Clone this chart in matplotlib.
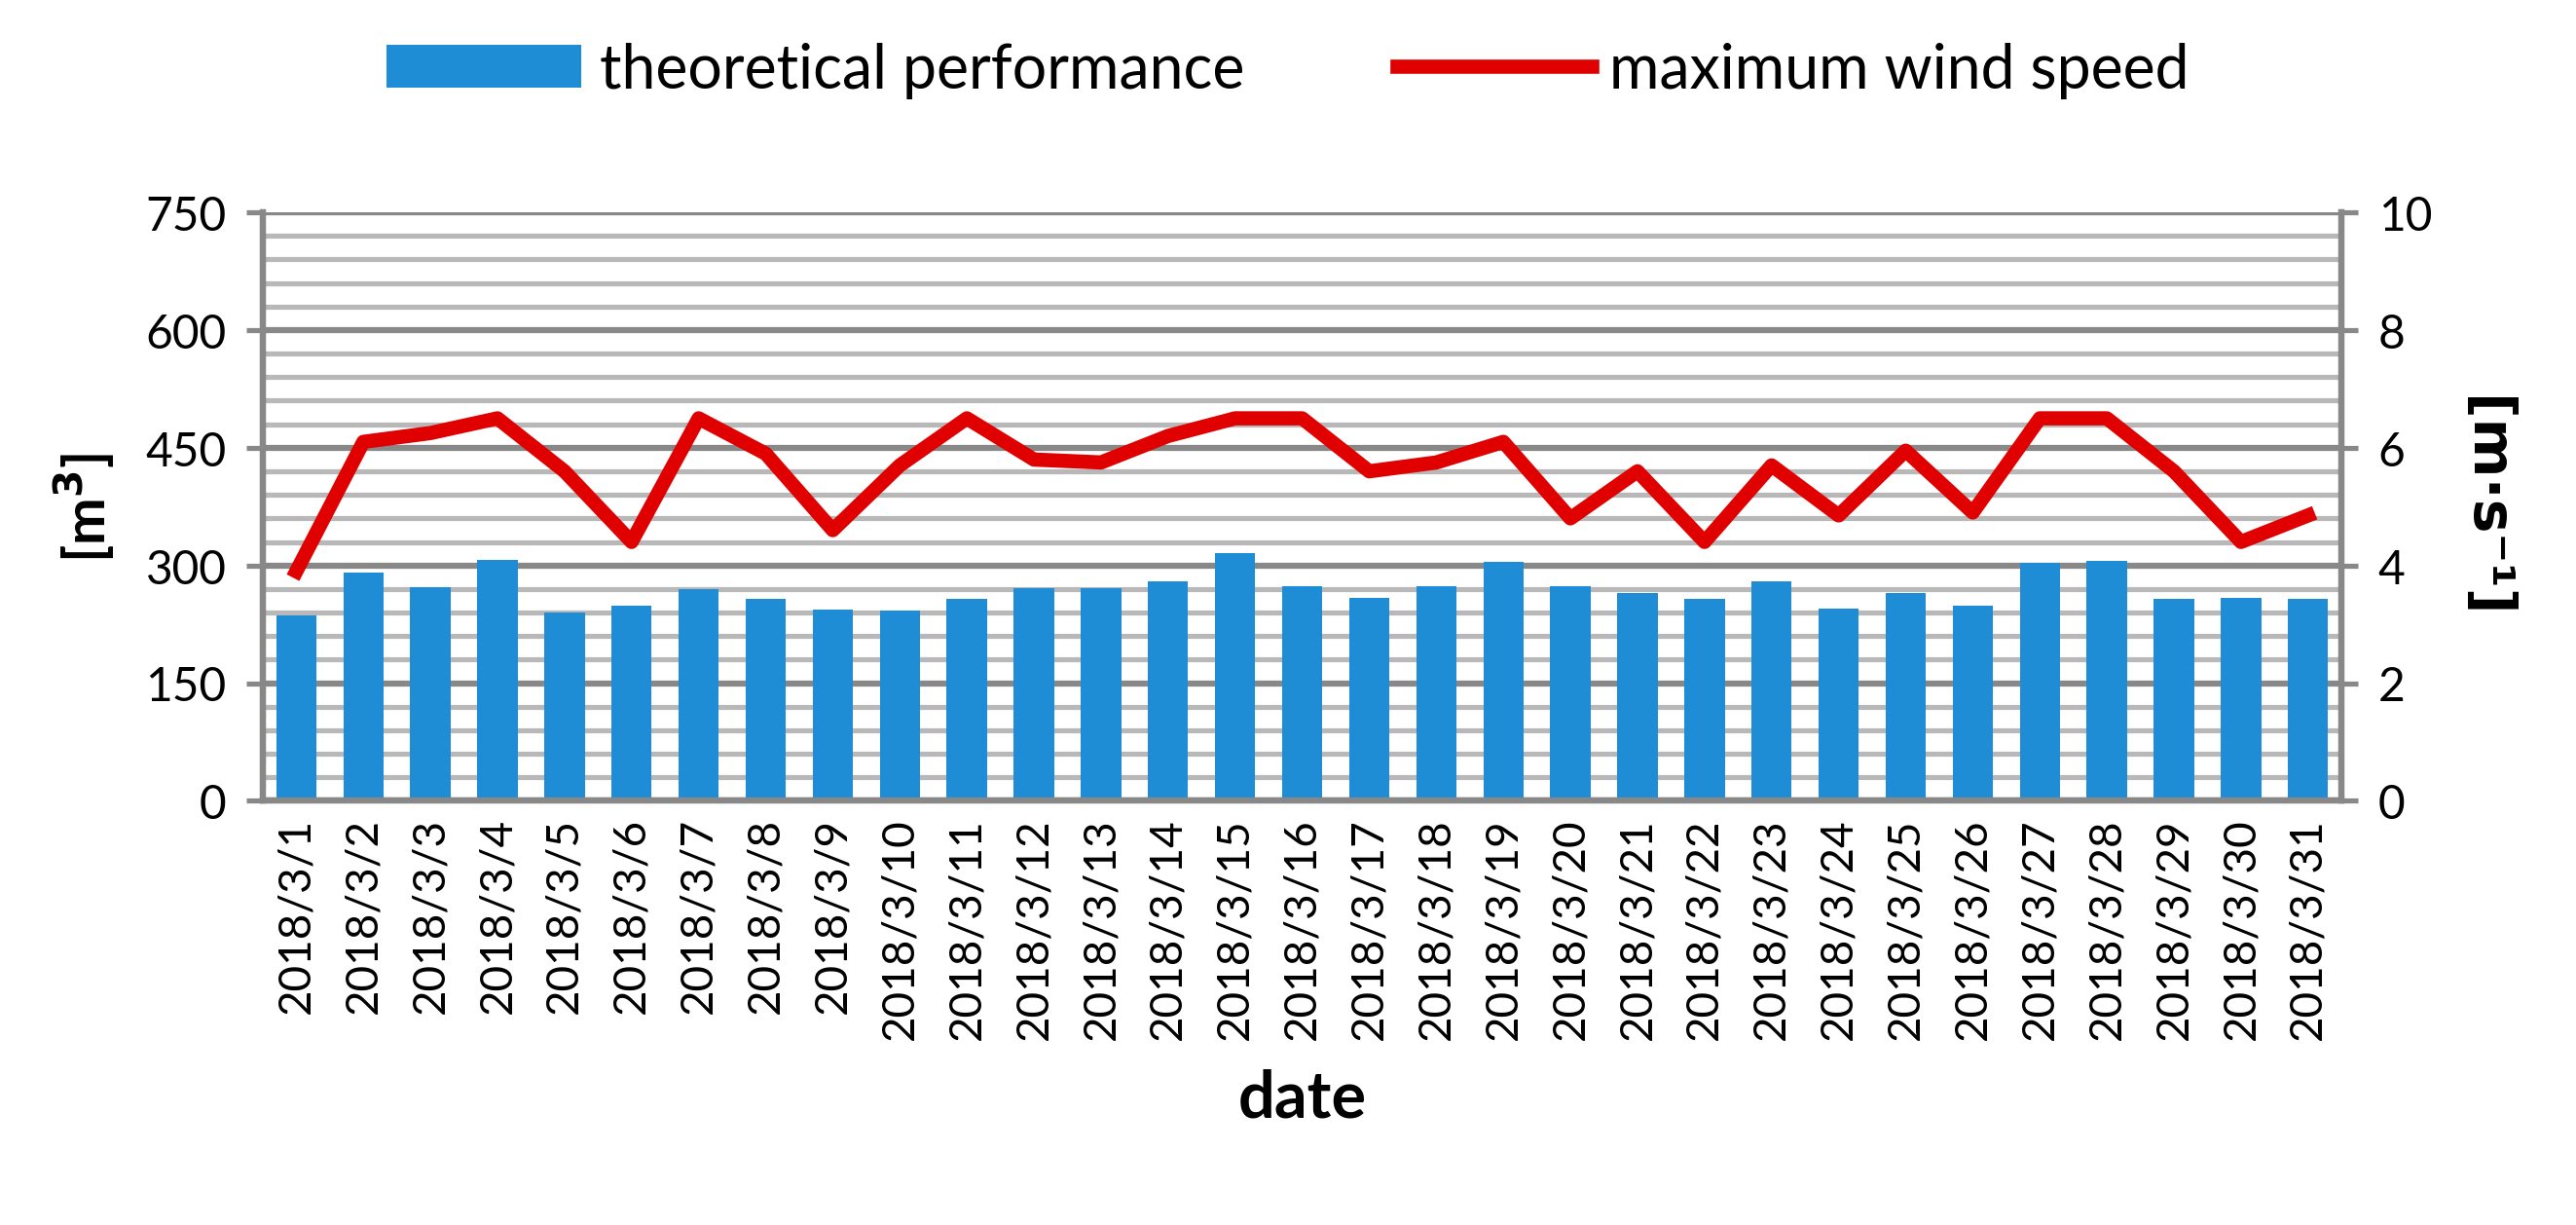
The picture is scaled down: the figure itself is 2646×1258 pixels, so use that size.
import matplotlib
matplotlib.use("Agg")
import matplotlib.pyplot as plt
from matplotlib.ticker import MultipleLocator

plt.rcParams["font.family"] = ["Lato", "DejaVu Sans"]

dates = [f"2018/3/{d}" for d in range(1, 32)]
performance = [236, 291, 272, 307, 240, 249, 270, 257, 244, 242, 257, 271, 271, 280, 316, 273,
               259, 274, 304, 273, 265, 258, 280, 245, 265, 249, 303, 306, 257, 259, 257]
wind_speed = [3.9, 6.1, 6.25, 6.5, 5.6, 4.4, 6.5, 5.9, 4.6, 5.7, 6.5, 5.8, 5.75, 6.2, 6.5, 6.5,
              5.6, 5.75, 6.1, 4.8, 5.6, 4.4, 5.7, 4.85, 5.95, 4.9, 6.5, 6.5, 5.6, 4.4, 4.85]

GRAY = "#888888"

fig, ax = plt.subplots(figsize=(17.64, 8.393), dpi=150)
fig.subplots_adjust(left=0.102, right=0.909, bottom=0.346, top=0.826)

x = range(len(dates))
bars = ax.bar(x, performance, width=0.6, color="#1f8dd6", zorder=3)
ax.set_ylim(0, 750)
ax.set_xlim(-0.5, len(dates) - 0.5)
ax.yaxis.set_major_locator(MultipleLocator(150))
ax.yaxis.set_minor_locator(MultipleLocator(30))
ax.grid(which="major", axis="y", color=GRAY, linewidth=3, zorder=0)
ax.grid(which="minor", axis="y", color="#b8b8b8", linewidth=2.5, zorder=0)
ax.set_xticks(list(x))
ax.set_xticklabels(dates, rotation=90, fontsize=22)
ax.tick_params(axis="y", which="major", labelsize=23, length=8, width=2.5, color=GRAY, pad=10)
ax.tick_params(axis="y", which="minor", length=0)
ax.tick_params(axis="x", length=0, pad=8)
ax.set_ylabel("[m$^\\mathbf{3}$]", fontsize=28, fontweight="bold", labelpad=14)
ax.set_xlabel("date", fontsize=32, fontweight="bold", labelpad=14)
for s in ax.spines.values():
    s.set_color(GRAY)
    s.set_linewidth(3)
ax.spines["top"].set_visible(False)

ax2 = ax.twinx()
line, = ax2.plot(list(x), wind_speed, color="#e00000", linewidth=7, zorder=4)
ax2.set_ylim(0, 10)
ax2.yaxis.set_major_locator(MultipleLocator(2))
ax2.tick_params(axis="y", labelsize=23, length=8, width=2.5, color=GRAY, pad=10)
ax2.set_ylabel("[m·s⁻¹]", fontsize=28, fontweight="bold", rotation=270, labelpad=40,
               family=["DejaVu Sans"])
for s in ax2.spines.values():
    s.set_color(GRAY)
    s.set_linewidth(3)
ax2.spines["top"].set_visible(False)

fig.legend([bars, line], ["theoretical performance", "maximum wind speed"], loc="upper center",
           bbox_to_anchor=(0.5, 1.01), ncol=2, frameon=False, fontsize=30,
           handlelength=3.2, columnspacing=2.5, handletextpad=0.3)

fig.savefig("out.png", dpi=150)
